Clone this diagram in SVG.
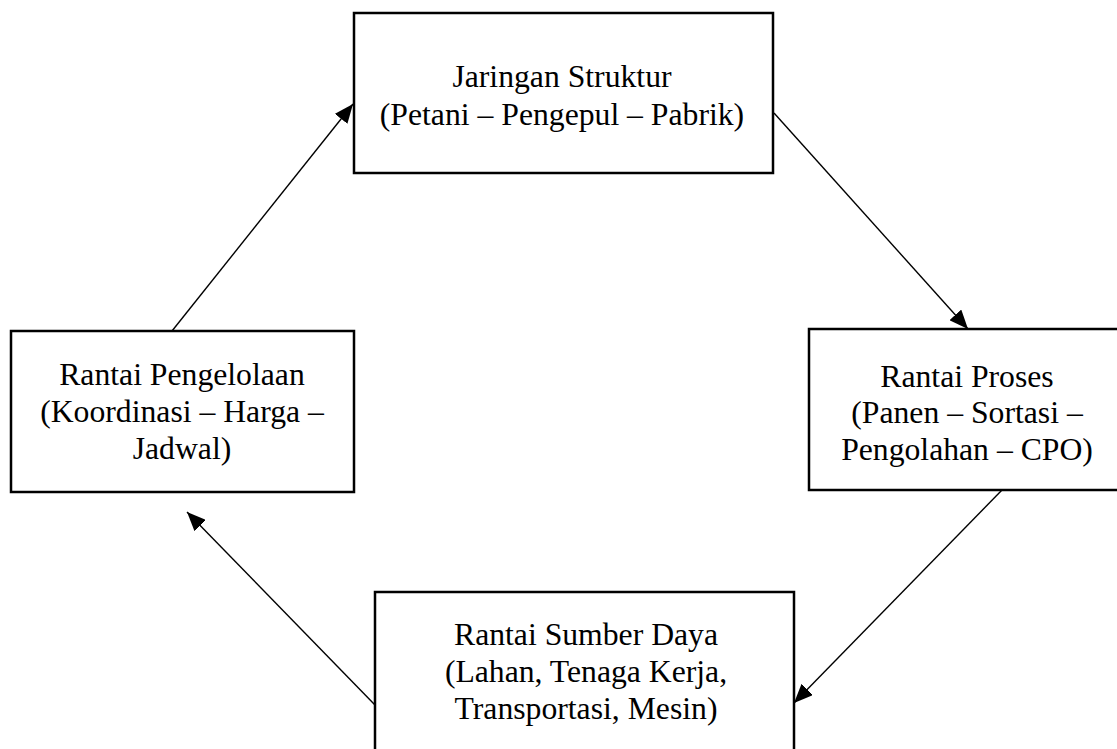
<svg xmlns="http://www.w3.org/2000/svg" width="1117" height="749" viewBox="0 0 1117 749">
<style>
.box{fill:#fff;stroke:#000;stroke-width:2.5}
.lbl{font-family:"Liberation Serif","Times New Roman",serif;font-size:31.7px;fill:#000;text-anchor:middle}
.conn{stroke:#000;stroke-width:1.4;fill:none;marker-end:url(#ah)}
</style>
<defs>
<marker id="ah" markerUnits="userSpaceOnUse" markerWidth="20" markerHeight="16" refX="19" refY="8" orient="auto">
<path d="M0,0 L19,8 L0,16 Z" fill="#000"/>
</marker>
</defs>
<rect width="1117" height="749" fill="#fff"/>
<g id="connectors">
<line class="conn" x1="172" y1="331" x2="353" y2="104"/>
<line class="conn" x1="774" y1="113" x2="968" y2="329"/>
<line class="conn" x1="1002" y1="490" x2="794" y2="703"/>
<line class="conn" x1="375" y1="705" x2="187" y2="512"/>
</g>
<g id="node-jaringan">
<rect class="box" x="354" y="13" width="419" height="160"/>
<text class="lbl" x="562" y="87">Jaringan Struktur</text>
<text class="lbl" x="562" y="125">(Petani – Pengepul – Pabrik)</text>
</g>
<g id="node-pengelolaan">
<rect class="box" x="11" y="331" width="343" height="161"/>
<text class="lbl" x="182" y="385">Rantai Pengelolaan</text>
<text class="lbl" x="182" y="422">(Koordinasi – Harga –</text>
<text class="lbl" x="182" y="459">Jadwal)</text>
</g>
<g id="node-proses">
<rect class="box" x="809" y="329" width="320" height="161"/>
<text class="lbl" x="967" y="387">Rantai Proses</text>
<text class="lbl" x="967" y="423">(Panen – Sortasi –</text>
<text class="lbl" x="967" y="460">Pengolahan – CPO)</text>
</g>
<g id="node-sumberdaya">
<rect class="box" x="375" y="592" width="419" height="180"/>
<text class="lbl" x="586" y="645">Rantai Sumber Daya</text>
<text class="lbl" x="586" y="682">(Lahan, Tenaga Kerja,</text>
<text class="lbl" x="586" y="719">Transportasi, Mesin)</text>
</g>
</svg>
